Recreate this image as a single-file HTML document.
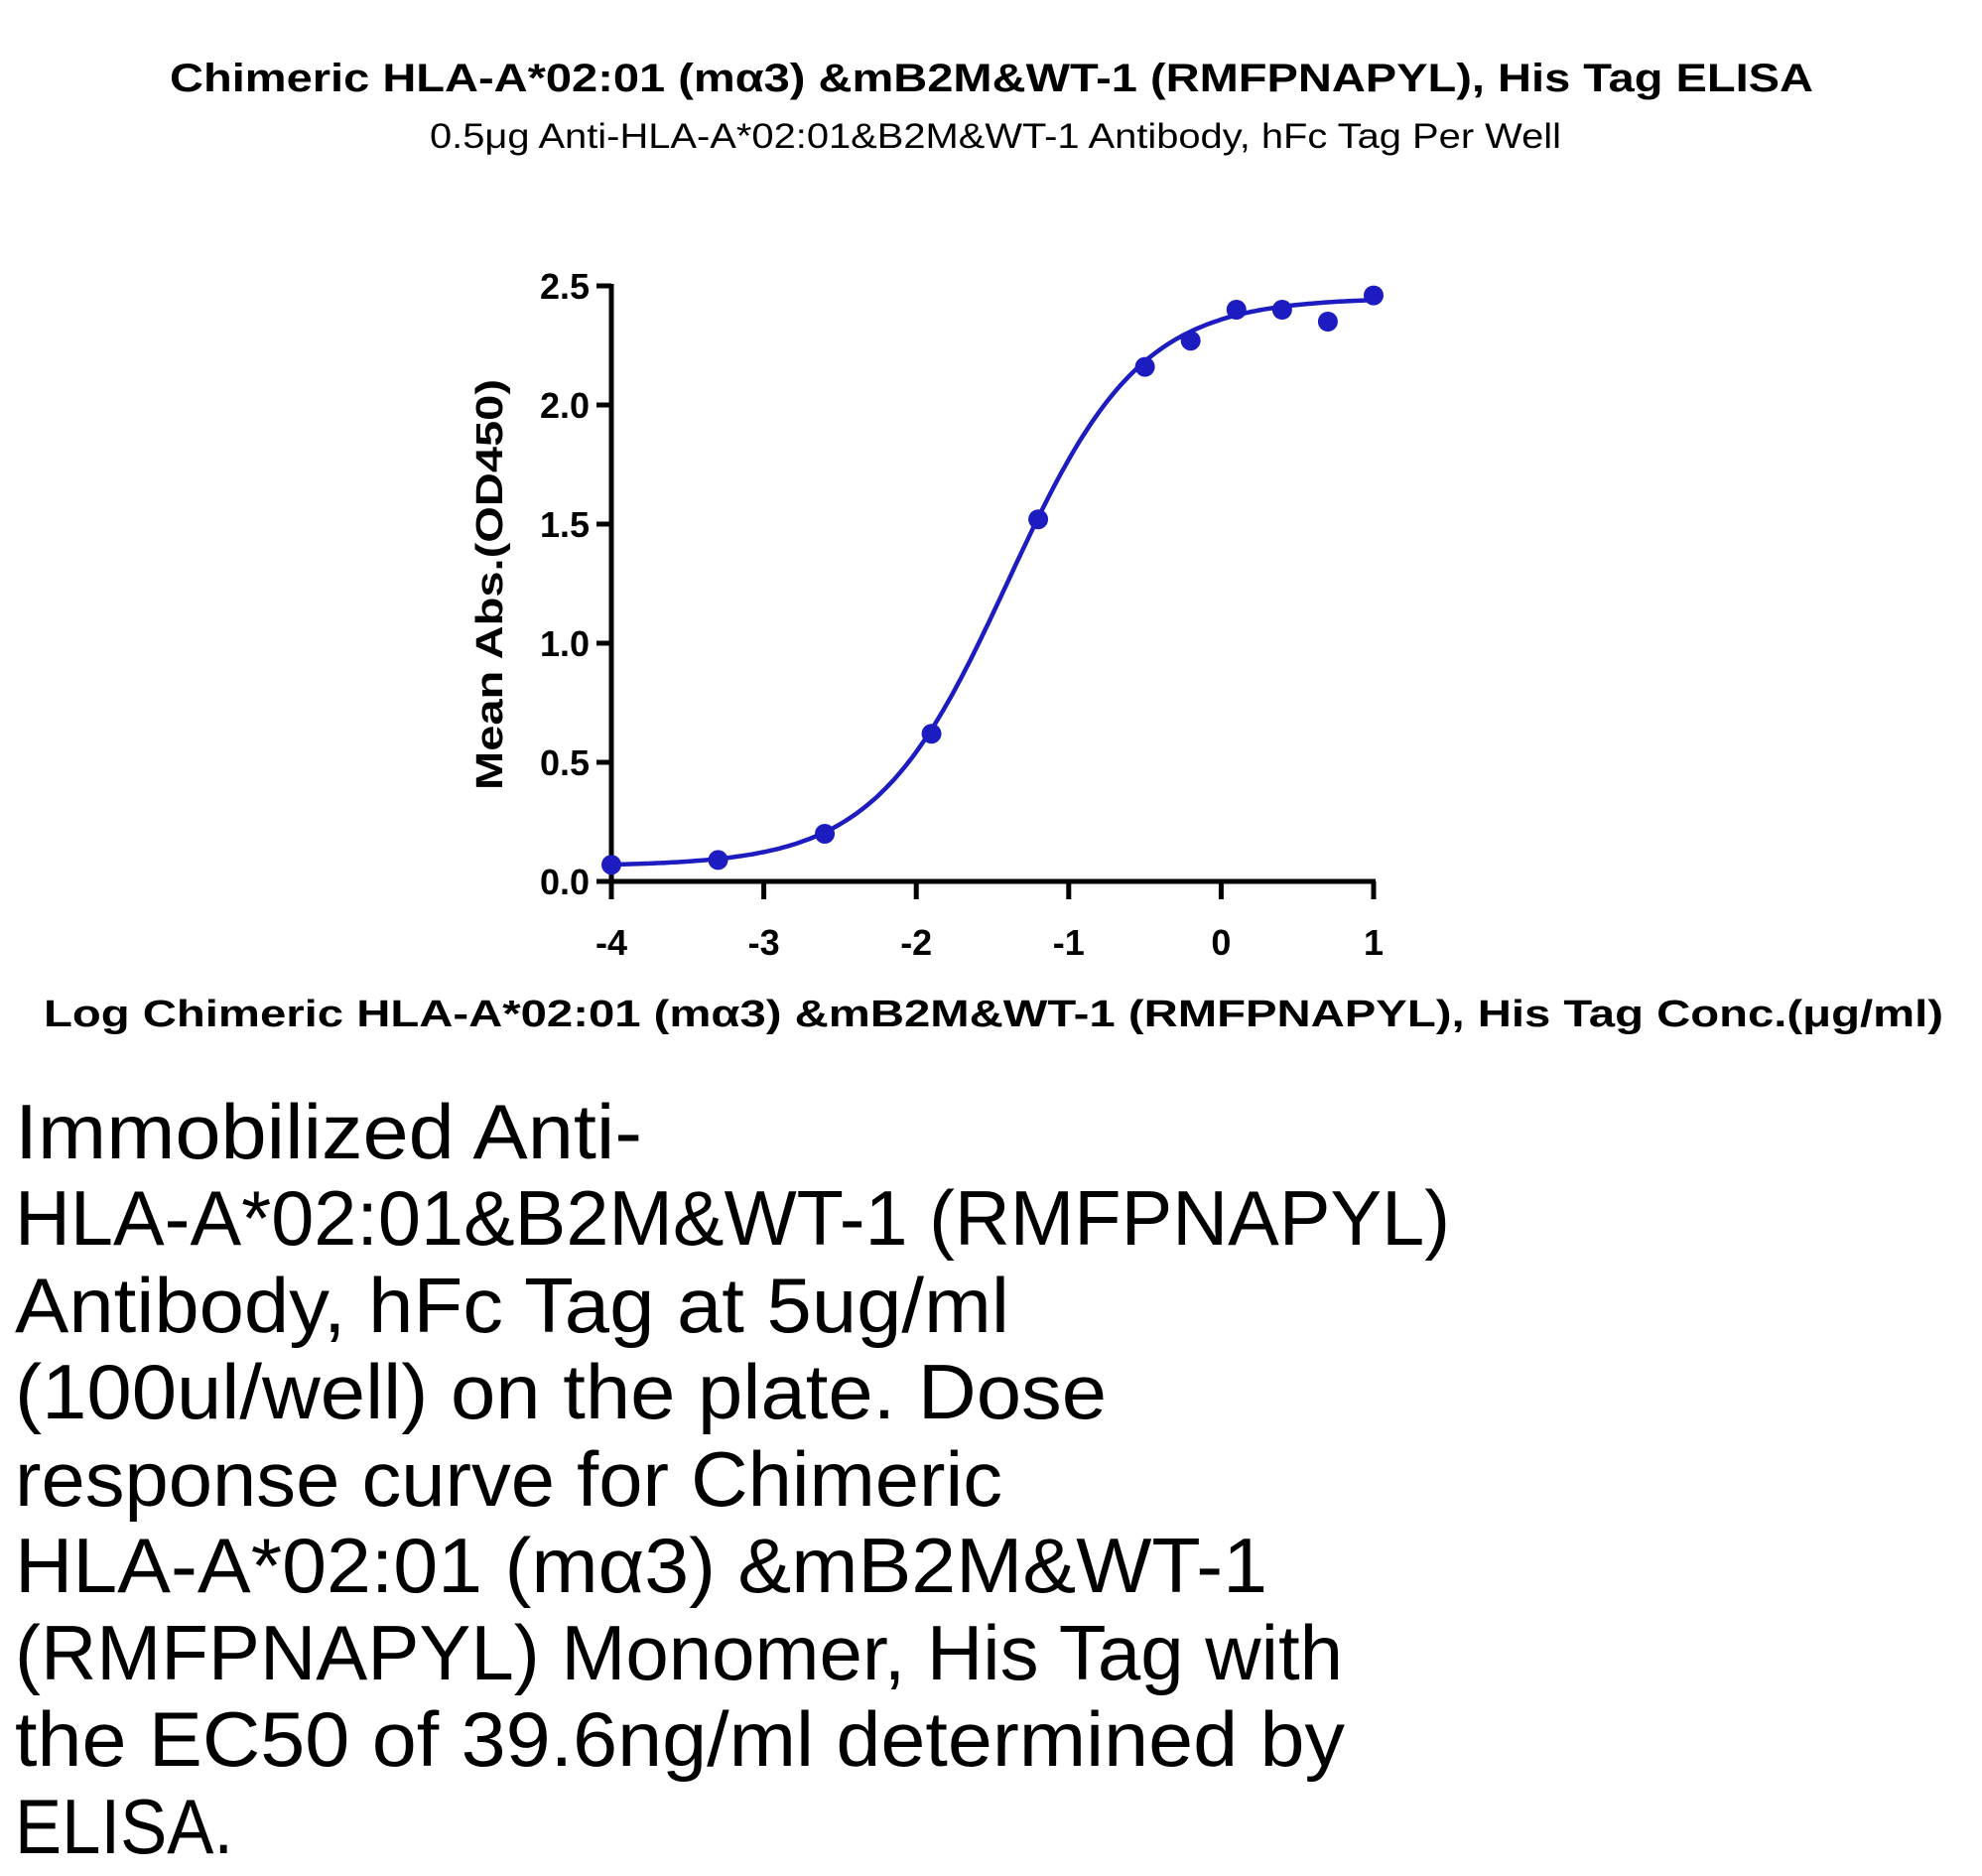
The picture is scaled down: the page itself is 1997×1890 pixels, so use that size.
<!DOCTYPE html>
<html><head><meta charset="utf-8"><style>
html,body{margin:0;padding:0;background:#fff;}
svg{display:block;font-family:"Liberation Sans",sans-serif;}
</style></head><body>
<svg width="1997" height="1890" viewBox="0 0 1997 1890">
<text x="999" y="92" text-anchor="middle" font-size="40" font-weight="bold" textLength="1656" lengthAdjust="spacingAndGlyphs">Chimeric HLA-A*02:01 (mα3) &amp;mB2M&amp;WT-1 (RMFPNAPYL), His Tag ELISA</text>
<text x="1003" y="149" text-anchor="middle" font-size="35" textLength="1140" lengthAdjust="spacingAndGlyphs">0.5μg Anti-HLA-A*02:01&amp;B2M&amp;WT-1 Antibody, hFc Tag Per Well</text>
<g id="plot"></g>
<text transform="translate(506,589) rotate(-90)" text-anchor="middle" font-size="38" font-weight="bold" textLength="414" lengthAdjust="spacingAndGlyphs">Mean Abs.(OD450)</text>
<text x="1001" y="1034" text-anchor="middle" font-size="38" font-weight="bold" textLength="1914" lengthAdjust="spacingAndGlyphs">Log Chimeric HLA-A*02:01 (mα3) &amp;mB2M&amp;WT-1 (RMFPNAPYL), His Tag Conc.(μg/ml)</text>
<g font-size="78">
<text x="15" y="1167" textLength="632" lengthAdjust="spacingAndGlyphs">Immobilized Anti-</text>
<text x="15" y="1254" textLength="1446" lengthAdjust="spacingAndGlyphs">HLA-A*02:01&amp;B2M&amp;WT-1 (RMFPNAPYL)</text>
<text x="15" y="1342" textLength="1002" lengthAdjust="spacingAndGlyphs">Antibody, hFc Tag at 5ug/ml</text>
<text x="15" y="1429" textLength="1100" lengthAdjust="spacingAndGlyphs">(100ul/well) on the plate. Dose</text>
<text x="15" y="1517" textLength="995" lengthAdjust="spacingAndGlyphs">response curve for Chimeric</text>
<text x="15" y="1604" textLength="1262" lengthAdjust="spacingAndGlyphs">HLA-A*02:01 (mα3) &amp;mB2M&amp;WT-1</text>
<text x="15" y="1692" textLength="1338" lengthAdjust="spacingAndGlyphs">(RMFPNAPYL) Monomer, His Tag with</text>
<text x="15" y="1779" textLength="1340" lengthAdjust="spacingAndGlyphs">the EC50 of 39.6ng/ml determined by</text>
<text x="15" y="1867" textLength="220" lengthAdjust="spacingAndGlyphs">ELISA.</text>
</g>
</svg>
<script>
const logConc = [-4, -3.3, -2.6, -1.9, -1.2, -0.5, -0.2, 0.1, 0.4, 0.7, 1.0];
const od450 = [0.07, 0.09, 0.20, 0.62, 1.52, 2.16, 2.27, 2.40, 2.40, 2.35, 2.46];
const xTicks = [-4, -3, -2, -1, 0, 1];
const yTicks = [0.0, 0.5, 1.0, 1.5, 2.0, 2.5];
const fitBottom = 0.065, fitTop = 2.45, fitLogEC50 = -1.40, fitHill = 1.0;

const NS = "http://www.w3.org/2000/svg";
const g = document.getElementById('plot');
const X0 = 616, X1 = 1384, Y0 = 888, Y1 = 288;
const xs = v => X0 + (v - (-4)) / 5 * (X1 - X0);
const ys = v => Y0 - v / 2.5 * (Y0 - Y1);
function mk(tag, attrs){const e=document.createElementNS(NS,tag);for(const k in attrs)e.setAttribute(k,attrs[k]);g.appendChild(e);return e;}

const ya = mk('line',{x1:X0,y1:Y1-2,x2:X0,y2:Y0+2,stroke:'#000','stroke-width':5});


const xa = mk('line',{x1:X0-2,y1:Y0,x2:X1+2,y2:Y0,stroke:'#000','stroke-width':5});



yTicks.forEach(v=>{
  const t = mk('line',{x1:X0-15,y1:ys(v),x2:X0,y2:ys(v),stroke:'#000','stroke-width':5});
  
  
  const l = mk('text',{x:594,y:ys(v)+13,'text-anchor':'end','font-size':36,'font-weight':'bold'});
  
  
  l.textContent = v.toFixed(1);
});
xTicks.forEach(v=>{
  const t = mk('line',{x1:xs(v),y1:Y0,x2:xs(v),y2:Y0+18,stroke:'#000','stroke-width':5});
  
  
  const l = mk('text',{x:xs(v),y:962,'text-anchor':'middle','font-size':36,'font-weight':'bold'});
  
  
  l.textContent = String(v);
});

let d='';
for(let i=0;i<=200;i++){
  const lx = -4 + 5*i/200;
  const y = fitBottom + (fitTop-fitBottom)/(1+Math.pow(10,(fitLogEC50-lx)*fitHill));
  d += (i?'L':'M') + xs(lx).toFixed(1) + ',' + ys(y).toFixed(1);
}
const c = mk('path',{d:d,fill:'none',stroke:'#1c1cc0','stroke-width':4.5});



logConc.forEach((v,i)=>{
  const p = mk('circle',{cx:xs(v),cy:ys(od450[i]),r:10,fill:'#1c1cc0'});
  
  
});
</script>
</body></html>
